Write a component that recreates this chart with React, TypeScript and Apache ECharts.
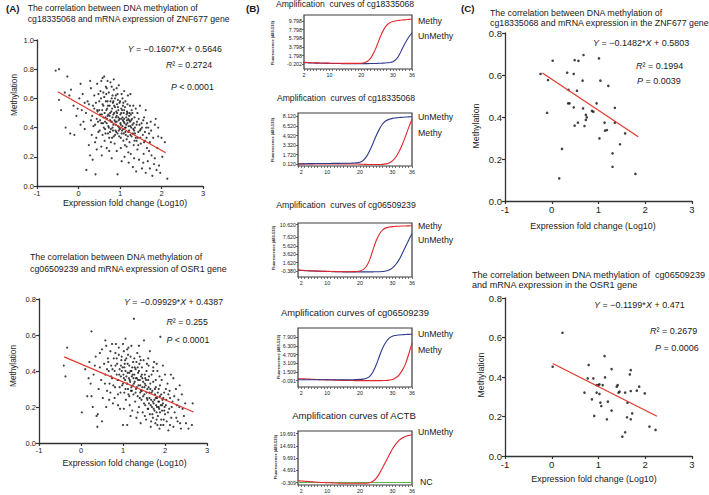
import React, { useEffect, useRef } from "react";
import * as echarts from "echarts";

const FONT = '"Liberation Sans", Arial, Helvetica, sans-serif';

// ---------- Panel A (top): cg18335068 vs ZNF677 ----------
const aTopPoints: number[][] = [
  [-0.55,0.79],[-0.47,0.80],[-0.27,0.75],[-0.47,0.59],[-0.42,0.52],[-0.33,0.64],[-0.22,0.62],[-0.18,0.66],[-0.31,0.40],[-0.20,0.36],
  [-0.10,0.35],[-0.05,0.48],[-0.12,0.55],[0.02,0.60],[0.05,0.70],[0.10,0.63],[0.08,0.52],[0.12,0.44],[0.15,0.39],[0.19,0.11],
  [0.22,0.58],[0.25,0.28],[0.28,0.21],[0.30,0.67],[0.33,0.48],[0.35,0.55],[0.38,0.62],[0.40,0.42],[0.41,0.08],[0.43,0.33],
  [0.45,0.70],[0.46,0.51],[0.48,0.37],[0.50,0.58],[0.52,0.45],[0.53,0.65],[0.55,0.27],[0.56,0.49],[0.58,0.74],[0.60,0.55],
  [0.61,0.40],[0.62,0.61],[0.63,0.31],[0.65,0.47],[0.66,0.68],[0.67,0.52],[0.68,0.43],[0.70,0.58],[0.71,0.36],[0.72,0.49],
  [0.73,0.64],[0.74,0.24],[0.75,0.55],[0.76,0.45],[0.77,0.71],[0.78,0.39],[0.79,0.51],[0.80,0.60],[0.81,0.33],[0.82,0.47],
  [0.83,0.57],[0.84,0.42],[0.85,0.66],[0.86,0.50],[0.87,0.29],[0.88,0.54],[0.89,0.44],[0.90,0.62],[0.91,0.37],[0.92,0.48],
  [0.93,0.56],[0.94,0.08],[0.95,0.41],[0.96,0.52],[0.97,0.69],[0.98,0.34],[0.99,0.46],[1.00,0.58],[1.01,0.43],[1.02,0.26],
  [1.03,0.50],[1.04,0.63],[1.05,0.38],[1.06,0.47],[1.07,0.55],[1.08,0.31],[1.09,0.44],[1.10,0.52],[1.11,0.20],[1.12,0.40],
  [1.13,0.58],[1.14,0.35],[1.15,0.47],[1.16,0.27],[1.17,0.51],[1.18,0.43],[1.19,0.62],[1.20,0.37],[1.21,0.16],[1.22,0.48],
  [1.23,0.30],[1.24,0.55],[1.25,0.41],[1.26,0.22],[1.27,0.45],[1.28,0.34],[1.30,0.50],[1.31,0.13],[1.32,0.39],[1.33,0.28],
  [1.35,0.47],[1.36,0.36],[1.38,0.53],[1.39,0.10],[1.40,0.42],[1.42,0.25],[1.43,0.33],[1.45,0.46],[1.46,0.18],[1.48,0.38],
  [1.50,0.29],[1.52,0.43],[1.53,0.12],[1.55,0.35],[1.57,0.22],[1.58,0.47],[1.60,0.31],[1.62,0.09],[1.63,0.40],[1.65,0.26],
  [1.67,0.17],[1.70,0.36],[1.72,0.12],[1.74,0.44],[1.76,0.21],[1.78,0.07],[1.80,0.33],[1.82,0.15],[1.84,0.42],[1.86,0.46],
  [1.88,0.11],[1.90,0.26],[1.92,0.34],[1.94,0.14],[1.97,0.09],[2.02,0.20],[2.08,0.30],[2.14,0.05],
  [0.55,0.43],[0.60,0.47],[0.64,0.39],[0.69,0.53],[0.72,0.41],[0.76,0.50],[0.80,0.44],[0.83,0.38],[0.86,0.55],[0.90,0.42],
  [0.93,0.50],[0.97,0.45],[1.00,0.39],[1.03,0.53],[1.06,0.41],[1.10,0.46],[1.14,0.40],[1.18,0.50],[1.22,0.38],[1.26,0.49],
  [1.30,0.42],[1.35,0.31],[0.58,0.35],[0.66,0.58],[0.74,0.33],[0.82,0.62],[0.88,0.35],[0.95,0.59],[1.02,0.33],[1.08,0.57],
  [1.16,0.32],[1.24,0.44],[0.50,0.52],[0.44,0.46],[0.38,0.53],[0.30,0.45],[0.25,0.56],[0.18,0.50],[0.70,0.72],[0.62,0.75],
  [0.92,0.67],[0.48,0.63],[0.40,0.30],[0.34,0.18],[1.42,0.50],[1.50,0.39],[1.58,0.30],[1.65,0.43],
  [0.36,0.41],[0.42,0.57],[0.47,0.44],[0.51,0.38],[0.54,0.60],[0.57,0.52],[0.59,0.43],[0.63,0.50],[0.65,0.36],[0.67,0.63],
  [0.69,0.46],[0.71,0.55],[0.73,0.40],[0.75,0.48],[0.77,0.58],[0.78,0.30],[0.79,0.44],[0.81,0.53],[0.82,0.40],[0.84,0.49],
  [0.85,0.34],[0.87,0.45],[0.88,0.60],[0.89,0.38],[0.91,0.51],[0.92,0.44],[0.94,0.36],[0.95,0.54],[0.96,0.47],[0.98,0.40],
  [0.99,0.57],[1.01,0.49],[1.02,0.42],[1.04,0.36],[1.05,0.52],[1.07,0.45],[1.08,0.39],[1.09,0.50],[1.11,0.43],[1.12,0.54],
  [1.13,0.37],[1.15,0.42],[1.17,0.45],[1.19,0.34],[1.20,0.46],[1.21,0.41],[1.23,0.50],[1.25,0.35],[1.27,0.40],[1.29,0.46],
  [1.31,0.36],[1.33,0.43],[1.36,0.40],[1.38,0.33],[1.41,0.44],[1.44,0.37],[1.47,0.42],[1.49,0.33],[1.53,0.40],[1.56,0.45],
  [1.60,0.37],[1.64,0.33],[1.68,0.40],[1.72,0.30],[0.45,0.52],[0.52,0.49],[0.58,0.56],[0.64,0.44],[0.70,0.48],[0.76,0.37],
  [0.84,0.58],[0.90,0.47],[0.97,0.38],[1.03,0.46],[1.09,0.36],[1.16,0.49],[1.22,0.45],[1.28,0.52],[1.34,0.38],[1.40,0.31],
  [0.60,0.64],[0.68,0.67],[0.80,0.68],[0.94,0.63],[1.06,0.60],[1.18,0.56],[1.32,0.55],[0.32,0.35],[0.44,0.25],[0.56,0.21],
  [0.68,0.26],[0.80,0.19],[0.92,0.24],[1.04,0.17],[1.12,0.28],[1.20,0.23],[1.34,0.19],[1.44,0.28],[1.56,0.16],[1.70,0.24],
  [1.84,0.19],[0.15,0.57],[0.05,0.42],[-0.02,0.53],[0.28,0.72],[0.55,0.72],[0.85,0.73],[1.10,0.65],[1.25,0.63],[1.48,0.55],
  [1.62,0.52],[1.75,0.38],[1.92,0.40],[2.00,0.33]
];
const aTopFit = { slope: -0.1607, intercept: 0.5646, from: -0.5, to: 2.1 };

// ---------- Panel A (bottom): cg06509239 vs OSR1 ----------
const aBotPoints: number[][] = [
  [-0.41,0.43],[-0.37,0.37],[-0.33,0.53],[0.02,0.17],[0.15,0.26],[0.25,0.26],[0.23,0.33],[0.25,0.62],[0.37,0.15],[0.39,0.09],
  [0.40,0.16],[0.10,0.41],[0.20,0.45],[0.30,0.38],[0.35,0.48],[0.42,0.30],[0.45,0.42],[0.48,0.35],[0.50,0.52],[0.52,0.25],
  [0.55,0.44],[0.58,0.38],[0.60,0.54],[0.62,0.29],[0.64,0.47],[0.66,0.40],[0.68,0.33],[0.70,0.51],[0.72,0.43],[0.74,0.36],
  [0.76,0.22],[0.78,0.47],[0.80,0.40],[0.81,0.31],[0.83,0.55],[0.85,0.38],[0.86,0.44],[0.88,0.27],[0.89,0.35],[0.90,0.49],
  [0.92,0.41],[0.93,0.19],[0.95,0.37],[0.96,0.46],[0.98,0.32],[0.99,0.42],[1.00,0.10],[1.01,0.38],[1.02,0.51],[1.03,0.28],
  [1.04,0.44],[1.05,0.35],[1.06,0.40],[1.07,0.24],[1.08,0.47],[1.09,0.33],[1.10,0.10],[1.11,0.39],[1.12,0.30],[1.13,0.53],
  [1.14,0.36],[1.15,0.43],[1.16,0.21],[1.17,0.34],[1.18,0.48],[1.19,0.29],[1.20,0.40],[1.21,0.37],[1.22,0.18],[1.23,0.32],
  [1.24,0.45],[1.25,0.27],[1.26,0.69],[1.27,0.38],[1.28,0.34],[1.29,0.23],[1.30,0.41],[1.31,0.30],[1.32,0.14],[1.33,0.36],
  [1.34,0.50],[1.35,0.26],[1.36,0.39],[1.37,0.32],[1.38,0.20],[1.39,0.44],[1.40,0.35],[1.41,0.28],[1.42,0.11],[1.43,0.37],
  [1.44,0.24],[1.45,0.42],[1.46,0.31],[1.47,0.17],[1.48,0.34],[1.49,0.46],[1.50,0.57],[1.51,0.27],[1.52,0.38],[1.53,0.21],
  [1.54,0.32],[1.55,0.13],[1.56,0.40],[1.57,0.25],[1.58,0.30],[1.59,0.19],[1.60,0.35],[1.61,0.43],[1.62,0.22],[1.63,0.28],
  [1.64,0.16],[1.65,0.33],[1.66,0.09],[1.67,0.24],[1.68,0.38],[1.69,0.20],[1.70,0.29],[1.71,0.14],[1.72,0.34],[1.73,0.22],
  [1.74,0.45],[1.75,0.18],[1.76,0.27],[1.77,0.11],[1.78,0.31],[1.79,0.21],[1.80,0.17],[1.81,0.25],[1.82,0.40],[1.83,0.15],
  [1.84,0.23],[1.85,0.30],[1.86,0.19],[1.87,0.08],[1.88,0.26],[1.89,0.59],[1.90,0.21],[1.91,0.13],[1.92,0.35],[1.93,0.18],
  [1.94,0.24],[1.96,0.10],[1.98,0.28],[2.00,0.16],[2.02,0.21],[2.04,0.12],[2.06,0.33],[2.08,0.07],[2.10,0.19],[2.12,0.25],
  [2.15,0.14],[2.18,0.23],[2.20,0.09],[2.23,0.17],[2.26,0.30],[2.30,0.12],[2.34,0.20],[2.38,0.08],[2.40,0.27],[2.45,0.15],
  [2.50,0.11],[2.56,0.08],[2.64,0.10],[2.66,0.22],
  [0.85,0.47],[0.95,0.43],[1.05,0.46],[1.15,0.39],[1.25,0.36],[1.35,0.42],[1.45,0.38],[1.55,0.35],[1.65,0.30],[1.75,0.24],
  [1.85,0.20],[1.95,0.22],[0.75,0.41],[0.65,0.45],[1.10,0.33],[1.20,0.31],[1.30,0.28],[1.40,0.25],[1.50,0.22],[1.60,0.19],
  [1.70,0.16],[1.80,0.13],[1.90,0.10],[1.00,0.55],[1.10,0.52],[1.20,0.54],[0.90,0.53],[1.40,0.48],[1.60,0.47],[1.80,0.44],
  [2.00,0.38],[2.20,0.36],[0.70,0.28],[0.80,0.25],[0.60,0.20],[0.50,0.12],[1.15,0.26],[1.45,0.29],[1.62,0.37],[1.72,0.40],
  [1.32,0.45],[1.02,0.36],[0.92,0.31],[1.22,0.42],[1.52,0.33],[1.78,0.35],[1.88,0.32],[1.98,0.18],[2.08,0.27],[2.28,0.21],
  [0.72,0.37],[0.77,0.32],[0.82,0.43],[0.87,0.35],[0.91,0.38],[0.94,0.28],[0.97,0.40],[1.00,0.33],[1.03,0.42],[1.06,0.30],
  [1.08,0.37],[1.11,0.44],[1.13,0.27],[1.16,0.35],[1.18,0.40],[1.21,0.29],[1.23,0.38],[1.26,0.33],[1.28,0.42],[1.31,0.36],
  [1.33,0.31],[1.36,0.35],[1.38,0.40],[1.41,0.32],[1.43,0.29],[1.46,0.36],[1.48,0.26],[1.51,0.31],[1.53,0.36],[1.56,0.28],
  [1.58,0.24],[1.61,0.31],[1.63,0.25],[1.66,0.21],[1.68,0.28],[1.71,0.23],[1.73,0.19],[1.76,0.30],[1.78,0.25],[1.81,0.20],
  [1.83,0.28],[1.86,0.23],[1.88,0.17],[1.91,0.27],[1.93,0.21],[1.96,0.25],[1.99,0.20],[2.03,0.24],[2.07,0.17],[2.11,0.29],
  [2.16,0.20],[2.22,0.26],[2.27,0.14],[2.32,0.24],[0.82,0.50],[0.97,0.48],[1.12,0.49],[1.27,0.47],[1.42,0.46],[1.57,0.44],
  [1.72,0.42],[1.87,0.37],[2.02,0.30],[0.62,0.41],[0.57,0.33],[0.67,0.24],[0.88,0.21],[1.02,0.19],[1.18,0.15],[1.35,0.17],
  [1.52,0.15],[1.67,0.12],[1.82,0.10],[1.97,0.13],[2.12,0.10],[2.36,0.11],[2.42,0.19],[0.45,0.50],[0.33,0.43],[0.18,0.36],
  [0.28,0.20],[0.58,0.57],[0.74,0.55],[1.06,0.58],[1.38,0.54],[1.64,0.51],[1.95,0.43],[2.14,0.38],[2.35,0.32],[2.48,0.22]
];
const aBotFit = { slope: -0.09929, intercept: 0.4387, from: -0.4, to: 2.68 };

// ---------- Panel C ----------
const cTopPoints: number[][] = [
  [-0.24,0.605],[-0.08,0.576],[0.02,0.668],[-0.10,0.42],[0.33,0.611],[0.47,0.605],[0.49,0.671],[0.57,0.667],[0.68,0.695],[1.01,0.679],
  [0.66,0.573],[1.04,0.573],[1.21,0.548],[0.36,0.529],[0.54,0.525],[0.35,0.465],[0.38,0.465],[0.47,0.446],[0.67,0.441],[0.96,0.465],
  [0.86,0.429],[0.89,0.425],[0.73,0.41],[0.75,0.398],[0.73,0.386],[0.70,0.357],[1.35,0.444],[1.35,0.373],[0.49,0.359],[0.56,0.373],
  [1.13,0.373],[1.14,0.335],[1.18,0.338],[1.57,0.322],[1.02,0.298],[1.46,0.27],[0.22,0.248],[1.30,0.227],[1.30,0.163],[1.79,0.129],
  [0.16,0.108]
];
const cTopFit = { slope: -0.1482, intercept: 0.5803, from: -0.2, to: 1.85 };

const cBotPoints: number[][] = [
  [0.02,0.452],[0.23,0.624],[0.70,0.321],[0.77,0.393],[0.79,0.461],[0.89,0.393],[0.86,0.287],[0.91,0.203],[0.96,0.359],[1.00,0.359],
  [1.02,0.363],[0.96,0.321],[1.02,0.314],[1.04,0.27],[1.06,0.253],[1.09,0.359],[1.13,0.506],[1.14,0.398],[1.20,0.275],[1.18,0.186],
  [1.28,0.44],[1.28,0.23],[1.39,0.351],[1.41,0.359],[1.43,0.321],[1.45,0.326],[1.57,0.321],[1.61,0.196],[1.57,0.12],[1.51,0.098],
  [1.62,0.27],[1.67,0.413],[1.69,0.435],[1.69,0.329],[1.69,0.186],[1.72,0.216],[1.82,0.331],[1.87,0.351],[1.99,0.317],[2.09,0.149],
  [2.22,0.132]
];
const cBotFit = { slope: -0.1199, intercept: 0.471, from: 0.02, to: 2.25 };

const corrXTicks = [-1, 0, 1, 2, 3];

// ---------- Panel B: amplification curves ----------
const cycles = [1,2,3,4,5,6,7,8,9,10,11,12,13,14,15,16,17,18,19,20,21,22,23,24,25,26,27,28,29,30,31,32,33,34,35,36];
const bXLabels = [2, 10, 20, 30, 36];

const b1Methy = [0.3,0.25,0.2,0.17,0.14,0.12,0.1,0.08,0.06,0.05,0.04,0.03,0.02,0.01,0.0,0.0,0.0,0.0,0.0,0.02,0.15,0.5,1.2,2.5,4.2,6.1,7.7,8.8,9.4,9.7,9.85,9.95,10.05,10.1,10.18,10.25];
const b1UnMethy = [0.2,0.16,0.13,0.1,0.08,0.06,0.04,0.02,0.0,-0.01,-0.02,-0.03,-0.04,-0.05,-0.05,-0.06,-0.06,-0.06,-0.06,-0.06,-0.05,-0.05,-0.04,-0.02,0.0,0.03,0.07,0.13,0.22,0.4,0.9,2.0,3.5,4.9,6.1,7.1];
const b1YTicks = [-0.202, 1.798, 3.798, 5.798, 7.798, 9.798];

const b2UnMethy = [0.2,0.2,0.2,0.22,0.22,0.24,0.24,0.25,0.25,0.26,0.26,0.27,0.27,0.28,0.28,0.3,0.3,0.32,0.35,0.45,0.75,1.4,2.4,3.6,4.9,6.0,6.9,7.4,7.65,7.8,7.88,7.94,7.98,8.02,8.05,8.08];
const b2Methy = [0.15,0.15,0.15,0.16,0.16,0.17,0.17,0.18,0.18,0.18,0.18,0.18,0.18,0.18,0.18,0.18,0.17,0.17,0.16,0.15,0.12,0.1,0.08,0.07,0.07,0.08,0.1,0.18,0.35,0.7,1.3,2.2,3.4,4.8,6.3,7.6];
const b2YTicks = [0.12, 1.72, 3.32, 4.92, 6.52, 8.12];

const b3Methy = [-0.1,-0.15,-0.2,-0.24,-0.28,-0.31,-0.34,-0.37,-0.4,-0.42,-0.44,-0.46,-0.48,-0.5,-0.5,-0.5,-0.5,-0.48,-0.45,-0.35,0.0,0.8,2.3,4.6,6.8,8.4,9.4,9.85,10.05,10.15,10.2,10.25,10.28,10.3,10.33,10.35];
const b3UnMethy = [-0.15,-0.2,-0.24,-0.28,-0.31,-0.34,-0.37,-0.4,-0.42,-0.44,-0.46,-0.48,-0.5,-0.52,-0.53,-0.54,-0.55,-0.55,-0.55,-0.55,-0.55,-0.55,-0.54,-0.53,-0.52,-0.5,-0.45,-0.35,-0.1,0.4,1.2,2.3,3.8,5.4,7.0,8.5];
const b3YTicks = [-0.38, 1.62, 3.62, 5.62, 7.62, 9.62, 10.62];

const b4UnMethy = [0.1,0.1,0.1,0.1,0.1,0.1,0.1,0.1,0.1,0.1,0.1,0.1,0.1,0.1,0.1,0.1,0.1,0.1,0.12,0.15,0.2,0.35,0.7,1.5,2.8,4.4,5.9,7.0,7.7,8.05,8.2,8.28,8.33,8.37,8.4,8.42];
const b4Methy = [0.3,0.27,0.24,0.21,0.18,0.15,0.12,0.1,0.08,0.06,0.04,0.02,0.0,-0.02,-0.03,-0.04,-0.05,-0.06,-0.07,-0.08,-0.08,-0.08,-0.08,-0.08,-0.08,-0.07,-0.06,-0.04,0.02,0.15,0.45,0.95,1.8,3.0,4.8,6.8];
const b4YTicks = [-0.091, 1.509, 3.109, 4.709, 6.309, 7.909];

const b5UnMethy = [0.5,0.4,0.3,0.2,0.1,0.0,-0.1,-0.2,-0.25,-0.3,-0.35,-0.4,-0.45,-0.5,-0.5,-0.55,-0.55,-0.55,-0.55,-0.55,-0.53,-0.5,-0.3,0.3,1.5,3.4,5.9,8.4,11.0,13.4,15.4,16.9,17.9,18.5,18.9,19.2];
const b5NC = [-0.2,-0.2,-0.2,-0.2,-0.2,-0.2,-0.2,-0.2,-0.2,-0.2,-0.2,-0.2,-0.2,-0.2,-0.2,-0.2,-0.2,-0.2,-0.2,-0.2,-0.2,-0.2,-0.2,-0.2,-0.2,-0.2,-0.2,-0.2,-0.2,-0.2,-0.2,-0.2,-0.2,-0.2,-0.2,-0.2];
const b5YTicks = [-0.309, 4.691, 9.691, 14.691, 19.691];

const RED = "#e3262d";
const BLUE = "#2e3a8c";
const GREEN = "#58b947";
const FIT = "#e2382c";
const AX = "#333";

function corrX(gridIndex: number, fs: number) {
  return {
    type: "value", gridIndex, min: corrXTicks[0], max: corrXTicks[corrXTicks.length - 1], interval: 1,
    axisLine: { show: true, onZero: false, lineStyle: { color: AX, width: 1.3 } },
    axisTick: { show: true, length: 3, lineStyle: { color: AX, width: 1.2 } },
    axisLabel: { fontSize: fs, color: "#222", margin: 3, fontFamily: FONT },
    splitLine: { show: false },
  };
}
function corrY(gridIndex: number, max: number, fs: number) {
  return {
    type: "value", gridIndex, min: 0, max, interval: 0.2,
    axisLine: { show: true, onZero: false, lineStyle: { color: AX, width: 1.3 } },
    axisTick: { show: true, length: 3, lineStyle: { color: AX, width: 1.2 } },
    axisLabel: { fontSize: fs, color: "#222", margin: 3, fontFamily: FONT, formatter: (v: number) => v.toFixed(1) },
    splitLine: { show: false },
  };
}
function bX(gridIndex: number, min: number) {
  return {
    type: "value", gridIndex, min, max: 36, position: "bottom",
    axisLine: { show: false, onZero: false },
    axisTick: { show: true, inside: false, length: 2, customValues: cycles.filter((c) => c >= min), lineStyle: { color: "#555", width: 0.8 } },
    axisLabel: { fontSize: 5.3, color: "#222", margin: 3, fontFamily: FONT, customValues: bXLabels, hideOverlap: false },
    splitLine: { show: false },
  };
}
function bY(gridIndex: number, min: number, max: number, ticks: number[]) {
  return {
    type: "value", gridIndex, min, max, position: "left",
    axisLine: { show: false, onZero: false },
    axisTick: { show: true, inside: false, length: 2, customValues: ticks, lineStyle: { color: "#444", width: 0.8 } },
    axisLabel: {
      fontSize: 5.3, color: "#222", margin: 2, fontFamily: FONT, customValues: ticks, hideOverlap: false,
      showMinLabel: true, showMaxLabel: true, formatter: (v: number) => v.toFixed(3),
    },
    splitLine: { show: false },
  };
}
function fitSeries(idx: number, f: { slope: number; intercept: number; from: number; to: number }) {
  return {
    type: "line", xAxisIndex: idx, yAxisIndex: idx, showSymbol: false, silent: true,
    lineStyle: { color: FIT, width: 1.2 }, z: 5,
    data: [[f.from, f.slope * f.from + f.intercept], [f.to, f.slope * f.to + f.intercept]],
  };
}
function scatter(idx: number, pts: number[][], size: number) {
  return { type: "scatter", xAxisIndex: idx, yAxisIndex: idx, symbol: "circle", symbolSize: size, itemStyle: { color: "#111" }, data: pts };
}
function curve(idx: number, vals: number[], color: string, z = 3) {
  return {
    type: "line", xAxisIndex: idx, yAxisIndex: idx, showSymbol: false, smooth: 0.35, z,
    lineStyle: { color, width: 1.1 }, data: cycles.map((c, i) => [c, vals[i]]),
  };
}
function txt(x: number, y: number, text: string, fs: number, extra: any = {}) {
  return {
    type: "text", x, y, silent: true,
    style: { text, fontSize: fs, fontFamily: FONT, fill: "#1a1a1a", align: "left", verticalAlign: "middle", ...extra },
  };
}
function vtxt(x: number, y: number, text: string, fs: number, extra: any = {}) {
  return {
    type: "text", x, y, rotation: Math.PI / 2, silent: true,
    style: { text, fontSize: fs, fontFamily: FONT, fill: "#1a1a1a", align: "center", verticalAlign: "middle", ...extra },
  };
}
function rich(x: number, y: number, text: string, fs = 8.8) {
  return {
    type: "text", x, y, silent: true,
    style: {
      text, fontSize: fs, fontFamily: FONT, fill: "#1a1a1a", align: "left", verticalAlign: "middle",
      rich: { i: { fontStyle: "italic", fontSize: fs, fontFamily: FONT }, n: { fontSize: fs, fontFamily: FONT } },
    },
  };
}

export default function App() {
  const ref = useRef<HTMLDivElement>(null);
  useEffect(() => {
    if (!ref.current) return;
    const chart = echarts.init(ref.current, null, { renderer: "svg" });
    const g = (left: number, top: number, width: number, height: number, box = false) => ({
      left, top, width, height, containLabel: false, outerBoundsMode: "none",
      show: box, borderColor: "#3a3a3a", borderWidth: 1.2, backgroundColor: "transparent",
    });
    const option: any = {
      animation: false,
      backgroundColor: "#ffffff",
      textStyle: { fontFamily: FONT },
      grid: [
        g(37, 40, 166, 146),
        g(39, 299, 168, 144),
        g(505, 33, 187, 168),
        g(505, 298, 187, 158),
        g(304, 15, 108, 54, true),
        g(298, 113, 114, 53, true),
        g(298, 223, 114, 54, true),
        g(298, 328, 114, 59, true),
        g(298, 431, 114, 54, true),
      ],
      xAxis: [
        corrX(0, 7.5), corrX(1, 7.5), corrX(2, 9.5), corrX(3, 9.5),
        bX(4, 2), bX(5, 1), bX(6, 1), bX(7, 1), bX(8, 1),
      ],
      yAxis: [
        corrY(0, 1.0, 7.5), corrY(1, 0.8, 7.5), corrY(2, 0.8, 9.5), corrY(3, 0.8, 9.5),
        bY(4, -1.3, 11.2, b1YTicks),
        bY(5, -0.17, 8.7, b2YTicks),
        bY(6, -1.75, 11.0, b3YTicks),
        bY(7, -1.24, 9.56, b4YTicks),
        bY(8, -1.24, 20.74, b5YTicks),
      ],
      series: [
        scatter(0, aTopPoints, 2.2), fitSeries(0, aTopFit),
        scatter(1, aBotPoints, 2.2), fitSeries(1, aBotFit),
        scatter(2, cTopPoints, 2.6), fitSeries(2, cTopFit),
        scatter(3, cBotPoints, 2.6), fitSeries(3, cBotFit),
        curve(4, b1UnMethy, BLUE), curve(4, b1Methy, RED, 4),
        curve(5, b2Methy, RED), curve(5, b2UnMethy, BLUE, 4),
        curve(6, b3UnMethy, BLUE), curve(6, b3Methy, RED, 4),
        curve(7, b4Methy, RED), curve(7, b4UnMethy, BLUE, 4),
        curve(8, b5NC, GREEN), curve(8, b5UnMethy, RED, 4),
      ],
      graphic: [
        // Panel A top
        txt(6, 8, "(A)", 9.8, { fontWeight: "bold" }),
        txt(27.7, 8, "The correlation between DNA methylation of", 8.7),
        txt(27.7, 19, "cg18335068 and mRNA expression of ZNF677 gene", 8.7),
        rich(127.7, 49, "{i|Y} = −0.1607*{i|X} + 0.5646"),
        rich(166, 65, "{i|R}² = 0.2724"),
        rich(171, 87, "{i|P} < 0.0001"),
        vtxt(14, 95, "Methylation", 8.2, { fill: "#222" }),
        txt(125, 203, "Expression fold change (Log10)", 8.8, { align: "center" }),
        // Panel A bottom
        txt(30, 257, "The correlation between DNA methylation of", 8.8),
        txt(30, 269, "cg06509239 and mRNA expression of OSR1 gene", 8.8),
        rich(124, 302, "{i|Y} = −0.09929*{i|X} + 0.4387"),
        rich(166.5, 322, "{i|R}² = 0.255"),
        rich(166.5, 340, "{i|P} < 0.0001"),
        vtxt(13, 366, "Methylation", 8.2, { fill: "#222" }),
        txt(124.5, 463, "Expression fold change (Log10)", 8.8, { align: "center" }),
        // Panel B
        txt(246, 8, "(B)", 9.8, { fontWeight: "bold" }),
        txt(345, 4, "Amplification  curves of cg18335068", 8.6, { align: "center" }),
        txt(346, 98, "Amplification  curves of cg18335068", 8.6, { align: "center" }),
        txt(346, 205, "Amplification  curves of cg06509239", 8.7, { align: "center" }),
        txt(355, 312, "Amplification curves of cg06509239", 9.4, { align: "center" }),
        txt(354, 415, "Amplification curves of ACTB", 9.6, { align: "center" }),
        vtxt(272, 43, "Fluorescence (483-533)", 4, { fontWeight: "bold" }),
        vtxt(272, 140, "Fluorescence (483-533)", 4, { fontWeight: "bold" }),
        vtxt(273, 248, "Fluorescence (483-533)", 4, { fontWeight: "bold" }),
        vtxt(278, 357, "Fluorescence (483-533)", 4, { fontWeight: "bold" }),
        vtxt(275, 457, "Fluorescence (483-533)", 4, { fontWeight: "bold" }),
        txt(418, 21, "Methy", 8.8), txt(418, 36, "UnMethy", 8.8),
        txt(418, 117, "UnMethy", 8.8), txt(418, 133, "Methy", 8.8),
        txt(418, 226, "Methy", 8.8), txt(418, 240, "UnMethy", 8.8),
        txt(418, 334, "UnMethy", 8.8), txt(418, 350, "Methy", 8.8),
        txt(418, 432, "UnMethy", 8.8), txt(420, 482, "NC", 8.8),
        // Panel C top
        txt(461, 8, "(C)", 9.8, { fontWeight: "bold" }),
        txt(490, 13, "The correlation between DNA methylation of", 8.8),
        txt(490, 23, "cg18335068 and mRNA expression in the ZNF677 gene", 8.8),
        rich(593, 43, "{i|Y} = −0.1482*{i|X} + 0.5803", 9),
        rich(636, 66, "{i|R}² = 0.1994", 9),
        rich(637, 81, "{i|P} = 0.0039", 9),
        vtxt(476, 126, "Methylation", 8.8, { fill: "#222" }),
        txt(593, 226, "Expression fold change (Log10)", 8.9, { align: "center" }),
        // Panel C bottom
        txt(472, 275, "The correlation between DNA methylation of  cg06509239", 9.1),
        txt(472, 285, "and mRNA expression in the OSR1 gene", 9.1),
        rich(594, 305, "{i|Y} = −0.1199*{i|X} + 0.471", 9),
        rich(650, 331, "{i|R}² = 0.2679", 9),
        rich(655, 348, "{i|P} = 0.0006", 9),
        vtxt(481, 375, "Methylation", 8.8, { fill: "#222" }),
        txt(594, 479, "Expression fold change (Log10)", 8.9, { align: "center" }),
      ],
    };
    chart.setOption(option);
    return () => chart.dispose();
  }, []);
  return (
    <div
      ref={ref}
      style={{ position: "fixed", left: 0, top: 0, width: 709, height: 495, background: "#fff" }}
    />
  );
}
